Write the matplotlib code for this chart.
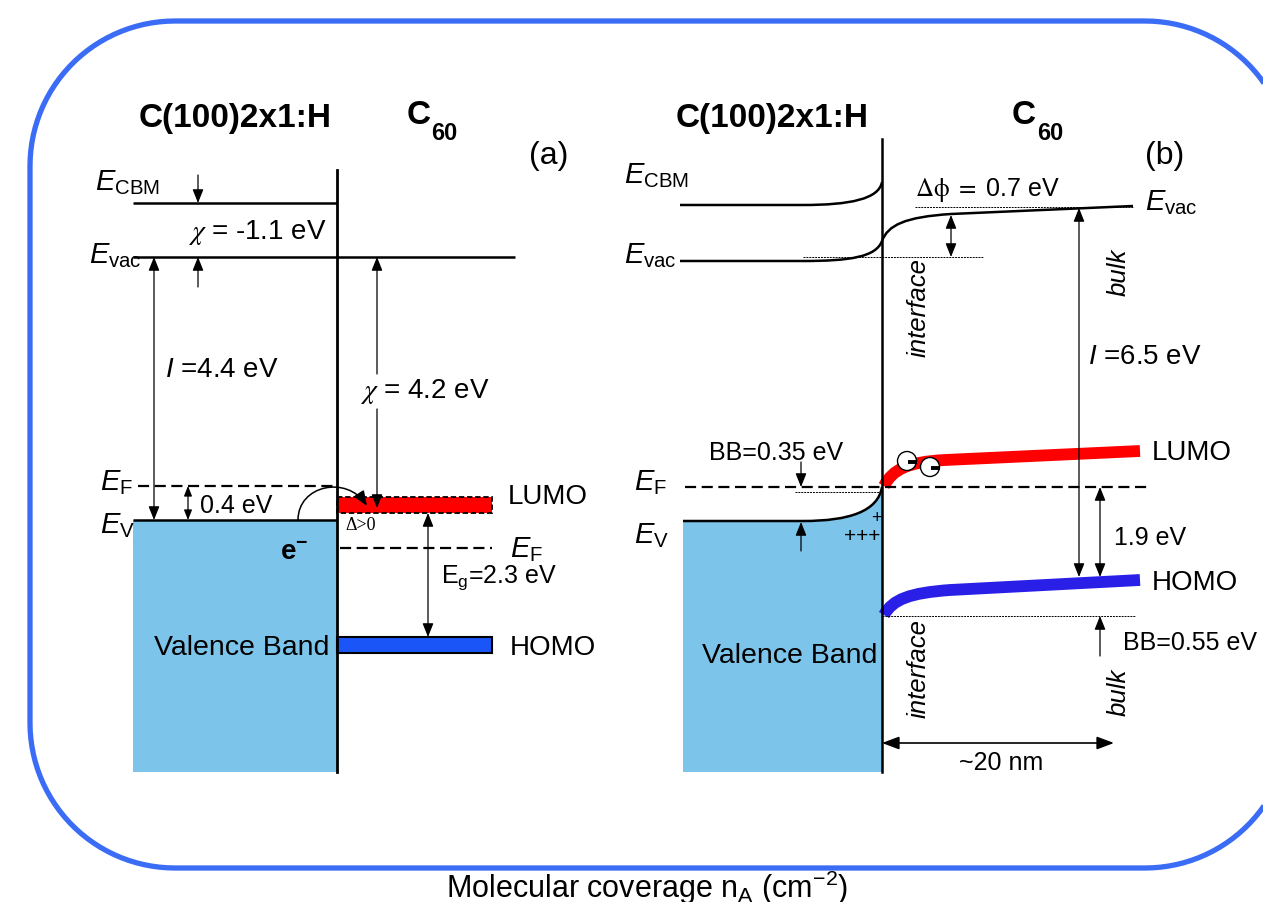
import numpy as np
import matplotlib.pyplot as plt
from matplotlib.patches import Rectangle, Circle, PathPatch, FancyArrowPatch
from matplotlib.path import Path

plt.rcParams['font.family'] = ['Liberation Sans', 'DejaVu Sans']
plt.rcParams['mathtext.fontset'] = 'custom'
plt.rcParams['mathtext.rm'] = 'Liberation Sans'
plt.rcParams['mathtext.it'] = 'Liberation Sans:italic'
plt.rcParams['mathtext.bf'] = 'Liberation Sans:bold'

# colours
VB_BLUE = '#7DC4EA'
LUMO_RED = '#FF0000'
HOMO_A = '#1A55F7'
HOMO_B = '#2A1FE6'
FRAME = '#3B6CF6'

# ---- panel (a): flat band levels (canvas units, y grows downward) ----
a_left, a_iface, a_right = 133, 337, 492
a_evac_right = 515
a_ecbm, a_evac, a_ef, a_ev = 204, 258, 487, 521
a_ef_c60 = 549
a_lumo = (498, 514)
a_homo = (638, 654)
a_bottom = 773

# ---- panel (b): bent bands, Bezier control points ----
b_left, b_iface, b_right = 683, 882, 1140
b_bottom = 773
b_ecbm = [(680, 206), (803, 206), (850, 206), (879, 200), (882, 183)]
b_evac_left = [(680, 262), (803, 262), (850, 262), (876, 258), (882, 242)]
b_evac_right = [(882, 242), (888, 226), (905, 218), (951, 215), (1133, 207)]
b_ev = [(683, 522), (803, 522), (850, 522), (878, 512), (882, 488)]
b_lumo = [(884, 487), (893, 470), (908, 463), (945, 461), (1140, 452)]
b_homo = [(884, 616), (893, 600), (910, 594), (950, 591), (1140, 581)]
b_ef = 488
b_ref_top, b_ref_bot = 208, 258
b_bb_ref = 493
b_homo_ref = 617
electrons = [(907, 462), (930, 468)]

fig = plt.figure(figsize=(12.63, 9.03), dpi=100)
ax = fig.add_axes([0, 0, 1, 1])
ax.set_xlim(0, 1263)
ax.set_ylim(903, 0)
ax.axis('off')


def hline(y, x0, x1, **kw):
    kw.setdefault('color', 'k')
    kw.setdefault('lw', 1.8)
    ax.plot([x0, x1], [y, y], solid_capstyle='butt', **kw)


def varrow(x, y0, y1, style='-|>', scale=11):
    ax.annotate('', xy=(x, y1), xytext=(x, y0),
                arrowprops=dict(arrowstyle=style + ',head_length=0.75,head_width=0.3',
                                lw=0.9, color='k', shrinkA=0, shrinkB=0,
                                mutation_scale=scale))


def harrow(y, x0, x1):
    ax.annotate('', xy=(x1, y), xytext=(x0, y),
                arrowprops=dict(arrowstyle='<|-|>,head_length=0.8,head_width=0.3',
                                lw=1.2, color='k', shrinkA=0, shrinkB=0,
                                mutation_scale=13))


def bent_path(pts):
    # straight run, then a cubic bend up to the interface
    return Path(list(pts), [Path.MOVETO, Path.LINETO,
                            Path.CURVE4, Path.CURVE4, Path.CURVE4])


def curve_then_line(pts):
    return Path(list(pts), [Path.MOVETO, Path.CURVE4, Path.CURVE4,
                            Path.CURVE4, Path.LINETO])


def elabel(x, y, sub, size=21):
    ax.text(x, y, r'$E_{\mathrm{%s}}$' % sub, fontsize=size, ha='left',
            va='baseline', math_fontfamily='custom')


def rounded_frame(x0, y0, x1, y1, r):
    t = np.linspace(0, np.pi / 2, 30)
    pts = []
    for cx, cy, a0 in ((x1 - r, y0 + r, -np.pi / 2), (x1 - r, y1 - r, 0),
                       (x0 + r, y1 - r, np.pi / 2), (x0 + r, y0 + r, np.pi)):
        pts += list(zip(cx + r * np.cos(a0 + t), cy + r * np.sin(a0 + t)))
    pts.append(pts[0])
    return Path(pts)


# frame
ax.add_patch(PathPatch(rounded_frame(30, 22, 1290, 869, 145), fc='none',
                       ec=FRAME, lw=3.8))

# ================= panel (a) =================
ax.text(235, 118, 'C(100)2x1:H', fontsize=24, weight='bold', ha='center', va='center')
ax.text(419, 116, 'C', fontsize=24, weight='bold', ha='center', va='center')
ax.text(444, 134, '60', fontsize=17, weight='bold', ha='center', va='center')
ax.text(549, 156, '(a)', fontsize=23, ha='center', va='center')

ax.add_patch(Rectangle((a_left, a_ev), a_iface - a_left, a_bottom - a_ev,
                       fc=VB_BLUE, ec='none'))
ax.plot([a_iface, a_iface], [171, a_bottom], color='k', lw=2.0)

hline(a_ecbm, a_left, a_iface)
hline(a_evac, a_left, a_evac_right)
hline(a_ev, a_left, a_iface)
hline(a_ef, 138, a_iface, ls=(0, (5, 2.5)), lw=1.6)
hline(a_ef_c60, 340, a_right, ls=(0, (5, 2.5)), lw=1.6)

ax.add_patch(Rectangle((a_iface, a_lumo[0]), a_right - a_iface, a_lumo[1] - a_lumo[0],
                       fc=LUMO_RED, ec='k', ls=(0, (3, 1.5)), lw=1.3))
ax.add_patch(Rectangle((a_iface, a_homo[0]), a_right - a_iface, a_homo[1] - a_homo[0],
                       fc=HOMO_A, ec='k', lw=1.5))

elabel(95, 190, 'CBM')
elabel(89, 263, 'vac')
elabel(100, 490, 'F')
elabel(100, 533, 'V')
elabel(510, 557, 'F')

varrow(198, 176, a_ecbm)
varrow(198, 288, a_evac)
varrow(154, a_evac, a_ev, '<|-|>')
varrow(188, a_ef, a_ev, '<|-|>', scale=8)
varrow(377, 375, a_evac)
varrow(377, 410, 509)
varrow(428, a_lumo[1], a_homo[0], '<|-|>')

ax.text(188, 233, r'$\chi$ = -1.1 eV', fontsize=20, ha='left', va='center',
        math_fontfamily='stix')
ax.text(165, 370, r'$I$ =4.4 eV', fontsize=20, ha='left', va='center',
        math_fontfamily='custom')
ax.text(360, 392, r'$\chi$ = 4.2 eV', fontsize=20, ha='left', va='center',
        math_fontfamily='stix')
ax.text(200, 506, '0.4 eV', fontsize=18, ha='left', va='center')
ax.text(345, 526, 'Δ>0', fontsize=13, family='Liberation Serif', ha='left', va='center')
ax.text(280, 553, r'$\mathbf{e}^{\mathbf{-}}$', fontsize=20, ha='left', va='center',
        math_fontfamily='custom')
ax.text(441, 578, r'E$_\mathrm{g}$=2.3 eV', fontsize=18, ha='left', va='center',
        math_fontfamily='custom')
ax.text(508, 497, 'LUMO', fontsize=20, ha='left', va='center')
ax.text(510, 648, 'HOMO', fontsize=20, ha='left', va='center')
ax.text(154, 648, 'Valence Band', fontsize=20.5, ha='left', va='center')

# electron transfer arc into the LUMO
arc = Path([(298, 521), (298, 486), (347, 476), (367, 507)],
           [Path.MOVETO, Path.CURVE4, Path.CURVE4, Path.CURVE4])
ax.add_patch(FancyArrowPatch(path=arc, arrowstyle='-|>,head_length=0.75,head_width=0.3',
                             mutation_scale=12, lw=1.1, color='k'))

# ================= panel (b) =================
ax.text(772, 118, 'C(100)2x1:H', fontsize=24, weight='bold', ha='center', va='center')
ax.text(1024, 116, 'C', fontsize=24, weight='bold', ha='center', va='center')
ax.text(1050, 134, '60', fontsize=17, weight='bold', ha='center', va='center')
ax.text(1165, 156, '(b)', fontsize=23, ha='center', va='center')

vb = Path(list(b_ev[1:]) + [(b_iface, b_bottom), (b_left, b_bottom), b_ev[1]],
          [Path.MOVETO, Path.CURVE4, Path.CURVE4, Path.CURVE4,
           Path.LINETO, Path.LINETO, Path.CLOSEPOLY])
ax.add_patch(PathPatch(vb, fc=VB_BLUE, ec='none'))
ax.add_patch(Rectangle((b_left, b_ev[0][1]), b_ev[1][0] - b_left, b_bottom - b_ev[0][1],
                       fc=VB_BLUE, ec='none'))

for pts in (b_ecbm, b_evac_left, b_ev):
    ax.add_patch(PathPatch(bent_path(pts), fc='none', ec='k', lw=1.8))
ax.add_patch(PathPatch(curve_then_line(b_evac_right), fc='none', ec='k', lw=1.8))

ax.plot([b_iface, b_iface], [140, b_bottom], color='k', lw=1.8)

hline(b_ef, 685, 1150, ls=(0, (5, 2.5)), lw=1.6)
hline(b_ref_top, 915, 1133, ls=(0, (2, 1)), lw=0.7)
hline(b_ref_bot, 803, 983, ls=(0, (2, 1)), lw=0.7)
hline(b_bb_ref, 795, b_iface, ls=(0, (2, 1)), lw=0.7)
hline(b_homo_ref, b_iface, 1135, ls=(0, (2, 1)), lw=0.7)

ax.add_patch(PathPatch(curve_then_line(b_lumo), fc='none', ec=LUMO_RED, lw=8.5,
                       capstyle='butt'))
ax.add_patch(PathPatch(curve_then_line(b_homo), fc='none', ec=HOMO_B, lw=8.5,
                       capstyle='butt'))

for ex, ey in electrons:
    ax.add_patch(Circle((ex, ey), 9.5, fc='white', ec='k', lw=1.0, zorder=5))
    ax.plot([ex + 1, ex + 10], [ey + 1, ey + 1], color='k', lw=2.8,
            solid_capstyle='butt', zorder=6)

elabel(624, 183, 'CBM')
elabel(624, 263, 'vac')
elabel(1145, 210, 'vac')
elabel(634, 490, 'F')
elabel(634, 543, 'V')

varrow(951, b_ref_bot, 216, '<|-|>')
varrow(1079, b_ref_top + 1, 578, '<|-|>')
varrow(801, 463, b_ef)
varrow(801, 552, 523)
varrow(1100, b_ef, 578, '<|-|>')
varrow(1100, 657, b_homo_ref)
harrow(744, b_iface, 1114)

ax.text(915, 190, r'$\Delta\mathrm{\phi}\ =$ 0.7 eV', fontsize=18, ha='left', va='center',
        math_fontfamily='stix')
ax.text(1088, 357, r'$I$ =6.5 eV', fontsize=20, ha='left', va='center',
        math_fontfamily='custom')
ax.text(776, 453, 'BB=0.35 eV', fontsize=18, ha='center', va='center')
ax.text(1190, 643, 'BB=0.55 eV', fontsize=18, ha='center', va='center')
ax.text(1114, 538, '1.9 eV', fontsize=18, ha='left', va='center')
ax.text(1001, 763, '~20 nm', fontsize=18, ha='center', va='center')
ax.text(1152, 453, 'LUMO', fontsize=20, ha='left', va='center')
ax.text(1152, 583, 'HOMO', fontsize=20, ha='left', va='center')
ax.text(790, 656, 'Valence Band', fontsize=20.5, ha='center', va='center')
ax.text(844, 537, '+++', fontsize=15, ha='left', va='center')
ax.text(876, 519, '+', fontsize=13, ha='center', va='center')

for y in (308, 669):
    ax.text(919, y, 'interface', fontsize=18.5, style='italic', rotation=90,
            ha='center', va='center')
for y in (272, 692):
    ax.text(1119, y, 'bulk', fontsize=18.5, style='italic', rotation=90,
            ha='center', va='center')

ax.text(647, 888, r'Molecular coverage n$_\mathrm{A}$ (cm$^{\mathrm{-2}}$)', fontsize=22,
        ha='center', va='center', math_fontfamily='custom')

fig.savefig('out.png', dpi=100)
